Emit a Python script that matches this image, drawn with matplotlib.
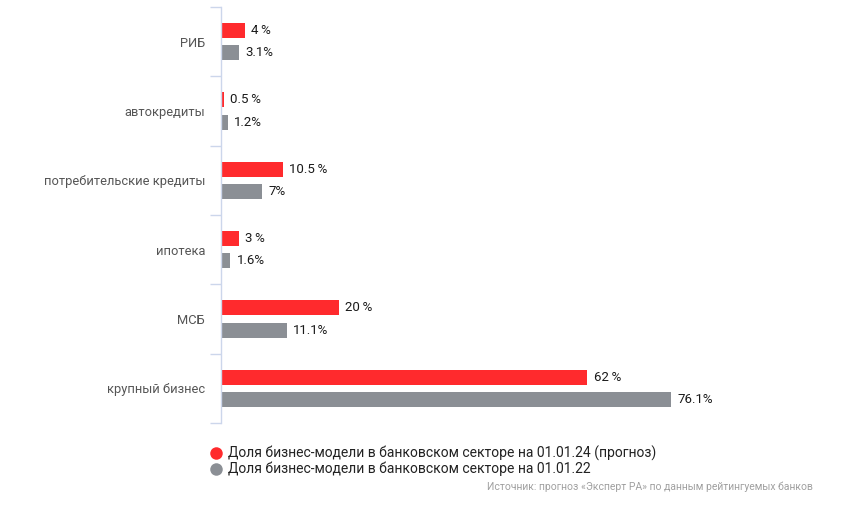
import matplotlib
matplotlib.use("Agg")
import matplotlib.pyplot as plt
from matplotlib.lines import Line2D

plt.rcParams['font.family'] = ['Roboto', 'DejaVu Sans']

categories = ["РИБ", "автокредиты", "потребительские кредиты", "ипотека", "МСБ", "крупный бизнес"]
forecast_24 = [4, 0.5, 10.5, 3, 20, 62]
actual_22 = [3.1, 1.2, 7, 1.6, 11.1, 76.1]
series_names = ["Доля бизнес-модели в банковском секторе на 01.01.24 (прогноз)",
                "Доля бизнес-модели в банковском секторе на 01.01.22"]
source_text = "Источник: прогноз «Эксперт РА» по данным рейтингуемых банков"

RED = "#ff2a2d"
GRAY = "#8b8f95"

W, H = 860, 514
fig = plt.figure(figsize=(W / 100, H / 100), dpi=100)
ax = fig.add_axes([221 / W, (H - 423) / H, 591 / W, 416 / H])

n = len(categories)
ys = list(range(n))
bh = 0.216
off = 0.159
ax.barh([y - off for y in ys], forecast_24, height=bh, color=RED, edgecolor="none")
ax.barh([y + off for y in ys], actual_22, height=bh, color=GRAY, edgecolor="none")

ax.set_xlim(0, 100)
ax.set_ylim(n - 0.5, -0.5)

for y, v in zip(ys, forecast_24):
    ax.annotate(f"{v:g}\u2009%", (v, y - off), xytext=(4.5, 0), textcoords="offset points",
                va="center", ha="left", fontsize=9.5, color="#1a1a1a")
for y, v in zip(ys, actual_22):
    ax.annotate(f"{v:g}%", (v, y + off), xytext=(4.5, 0), textcoords="offset points",
                va="center", ha="left", fontsize=9.5, color="#1a1a1a")

for s in ["top", "right", "bottom"]:
    ax.spines[s].set_visible(False)
ax.spines["left"].set_color("#ccd6eb")
ax.spines["left"].set_linewidth(1)
ax.set_xticks([])
ax.set_yticks([y - 0.5 for y in range(n + 1)], minor=False)
ax.set_yticklabels([])
ax.tick_params(axis="y", which="major", length=8, color="#ccd6eb", width=1)
ax.set_yticks(ys, minor=True)
ax.set_yticklabels(categories, minor=True)
ax.tick_params(axis="y", which="minor", length=0, pad=11.5, labelsize=9.3, labelcolor="#555555")

# legend
handles = [Line2D([0], [0], marker="o", linestyle="none", markersize=9, markerfacecolor=RED, markeredgecolor="none"),
           Line2D([0], [0], marker="o", linestyle="none", markersize=9, markerfacecolor=GRAY, markeredgecolor="none")]
leg = fig.legend(handles, series_names, loc="upper left", bbox_to_anchor=(199 / W, 1 - 439 / H),
                 frameon=False, fontsize=10, handletextpad=0.1, labelspacing=0.05, borderpad=0,
                 handlelength=1.5)
for t in leg.get_texts():
    t.set_color("#222222")

fig.text(813 / W, 1 - 487 / H, source_text, ha="right", va="center", fontsize=7.5, color="#a0a0a0")

fig.savefig("out.png", dpi=100)
